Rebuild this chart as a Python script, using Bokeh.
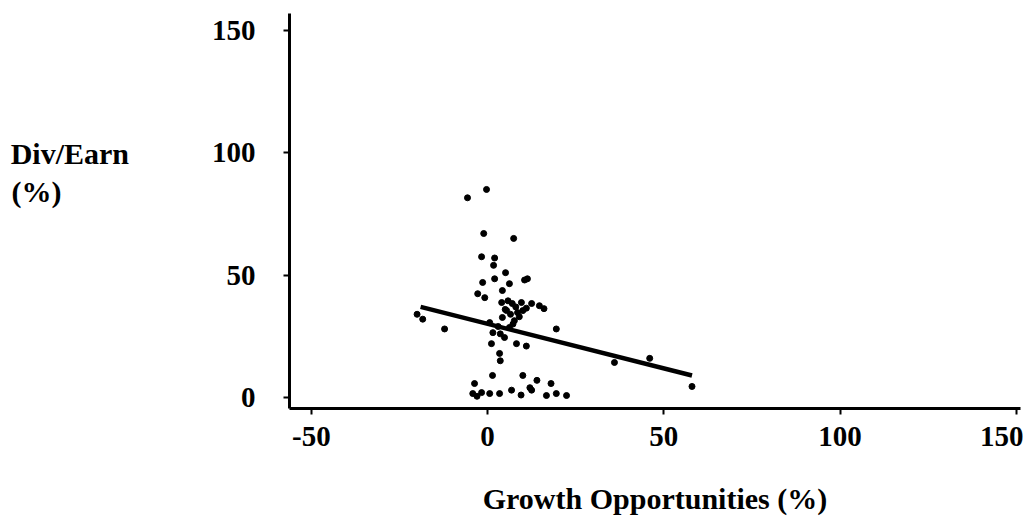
from bokeh.plotting import figure
from bokeh.models import Range1d, FixedTicker
from bokeh.embed import file_html
from bokeh.resources import INLINE

# Growth opportunities (%) vs Dividend/Earnings (%)
growth = [-5.7, -0.3, -1.1, 7.4, -1.7, 2.0, 1.7, 5.1, -1.4, 2.0, 6.2, 10.5, 11.3,
          4.2, -2.8, -0.8, 4.0, 7.0, 9.6, 5.4, 8.5, 4.2, 7.6, 6.2, 12.5, 14.7, 16.0,
          0.6, 5.0, 6.5, 8.0, 9.0, 10.0, 3.0, 11.0, 5.8, 7.2, 3.6,
          -18.4, -12.2, 19.5, 1.1, 8.2, 11.0, 3.4, 3.6, 1.4, 10.0, 14.0, 18.0, 12.0,
          -3.7, -4.2, -1.7, 0.6, 3.4, 6.8, 12.5, 16.7, 19.5, 22.4, -3.0, 9.5,
          36.0, 46.0, 58.0, -20.0, 1.5, 4.8]
div_earn = [81.6, 85.0, 67.0, 65.0, 57.5, 57.0, 54.0, 51.0, 47.0, 48.5, 46.5, 48.0, 48.5,
            43.7, 42.4, 40.8, 38.8, 38.4, 38.8, 35.5, 34.7, 32.7, 31.4, 28.6, 38.4, 37.5, 36.3,
            30.6, 36.0, 34.0, 37.0, 33.0, 35.5, 29.0, 36.5, 39.5, 30.0, 26.0,
            32.0, 28.0, 28.0, 22.0, 22.0, 21.0, 18.0, 15.0, 9.0, 9.0, 7.0, 5.7, 4.0,
            5.7, 1.6, 2.0, 1.6, 1.6, 3.0, 3.0, 0.8, 1.6, 0.8, 0.5, 1.0,
            14.3, 16.0, 4.5, 34.0, 26.5, 24.5]

# fitted regression line endpoints
fit_x = [-19.0, 58.0]
fit_y = [37.0, 9.0]

x_ticks = [-50, 0, 50, 100, 150]
x_tick_labels = ["-50", "0", "50", "100", "150"]
y_ticks = [0, 50, 100, 150]

FONT = "Liberation Serif"

p = figure(width=1023, height=519, output_backend="svg", toolbar_location=None,
           x_range=Range1d(-56.2, 151.2), y_range=Range1d(-4.5, 156.9),
           min_border_left=289, min_border_right=3, min_border_top=13, min_border_bottom=111)
p.outline_line_color = None
p.grid.visible = False
p.background_fill_color = "white"
p.border_fill_color = "white"

for ax in (p.xaxis, p.yaxis):
    ax.axis_line_width = 3
    ax.axis_line_color = "black"
    ax.major_tick_line_width = 2
    ax.major_tick_line_color = "black"
    ax.major_tick_out = 6
    ax.major_tick_in = 0
    ax.minor_tick_line_color = None
    ax.major_label_text_font = FONT
    ax.major_label_text_font_style = "bold"
    ax.major_label_text_font_size = "29px"
    ax.major_label_text_color = "black"
    ax.axis_label_text_font = FONT
    ax.axis_label_text_font_style = "bold"
    ax.axis_label_text_font_size = "30px"
    ax.axis_label_text_color = "black"

p.xaxis.ticker = FixedTicker(ticks=x_ticks)
p.xaxis.major_label_overrides = {t: s for t, s in zip(x_ticks, x_tick_labels)}
p.yaxis.ticker = FixedTicker(ticks=y_ticks)
p.xaxis.major_label_standoff = 12
p.yaxis.major_label_standoff = 28

p.xaxis.axis_label = "Growth Opportunities (%)"
p.xaxis.axis_label_standoff = 33

p.yaxis.axis_label = "Div/Earn\n(%)\u2003\u2003\u00a0\n\u00a0\n\u00a0"
p.yaxis.axis_label_orientation = "horizontal"
p.yaxis.axis_label_text_align = "left"
p.yaxis.axis_label_text_line_height = 1.17
p.yaxis.axis_label_standoff = 80

p.line(fit_x, fit_y, line_width=4.5, line_color="black")
p.scatter(growth, div_earn, size=6, color="black")

open("out.html", "w").write(file_html(p, INLINE))
